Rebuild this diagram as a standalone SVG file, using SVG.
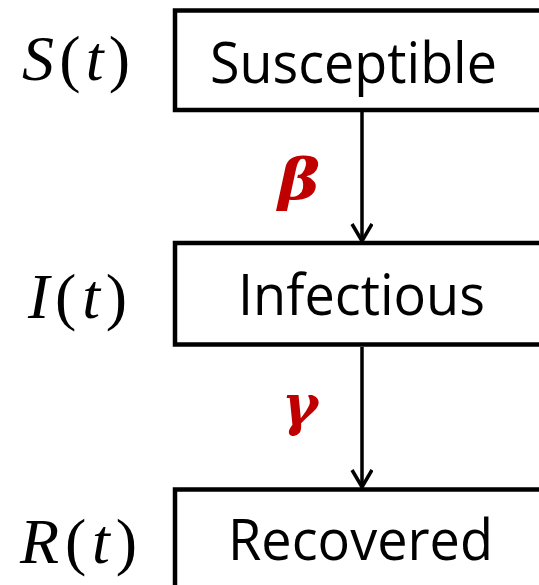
<svg xmlns="http://www.w3.org/2000/svg" width="539" height="585" viewBox="0 0 539 585">
<style>
.box{fill:#fff;stroke:#000;stroke-width:4.5}
.lbl{font-family:"Open Sans","Liberation Sans",sans-serif;font-size:57px;text-anchor:middle;fill:#000}
.math{font-family:"Liberation Serif",serif;font-size:64px;fill:#000}
.it{font-style:italic}
.rate{font-family:"DejaVu Serif",serif;font-style:italic;font-weight:bold;font-size:56px;fill:#C00000}
.edge{stroke:#000;stroke-width:3.5;fill:none}
</style>
<defs>
<marker id="arr" markerWidth="24" markerHeight="24" refX="19" refY="11" markerUnits="userSpaceOnUse" orient="auto">
<path d="M2,1 L19,11 L2,21" fill="none" stroke="#000" stroke-width="3.5"/>
</marker>
</defs>
<rect width="539" height="585" fill="#fff"/>
<g id="connectors">
<line class="edge" x1="362" y1="112" x2="362" y2="241" marker-end="url(#arr)"/>
<line class="edge" x1="362" y1="347" x2="362" y2="487" marker-end="url(#arr)"/>
</g>
<g id="S">
<rect class="box" x="175" y="10.5" width="380" height="99.5"/>
<text class="lbl" x="353.5" y="83" textLength="287" lengthAdjust="spacingAndGlyphs">Susceptible</text>
<text class="math" x="22" y="80" textLength="108" lengthAdjust="spacing"><tspan class="it">S</tspan>(<tspan class="it">t</tspan>)</text>
</g>
<g id="I">
<rect class="box" x="175" y="243" width="380" height="101.5"/>
<text class="lbl" x="361.5" y="315" textLength="247" lengthAdjust="spacingAndGlyphs">Infectious</text>
<text class="math" x="28" y="318" textLength="99" lengthAdjust="spacing"><tspan class="it">I</tspan>(<tspan class="it">t</tspan>)</text>
</g>
<g id="R">
<rect class="box" x="175" y="489.5" width="380" height="120"/>
<text class="lbl" x="360.5" y="560" textLength="265" lengthAdjust="spacingAndGlyphs">Recovered</text>
<text class="math" x="20" y="563" textLength="117" lengthAdjust="spacing"><tspan class="it">R</tspan>(<tspan class="it">t</tspan>)</text>
</g>
<text class="rate" x="278" y="199" textLength="42" lengthAdjust="spacingAndGlyphs">β</text>
<text class="rate" x="282" y="424" textLength="36" lengthAdjust="spacingAndGlyphs">γ</text>
</svg>
